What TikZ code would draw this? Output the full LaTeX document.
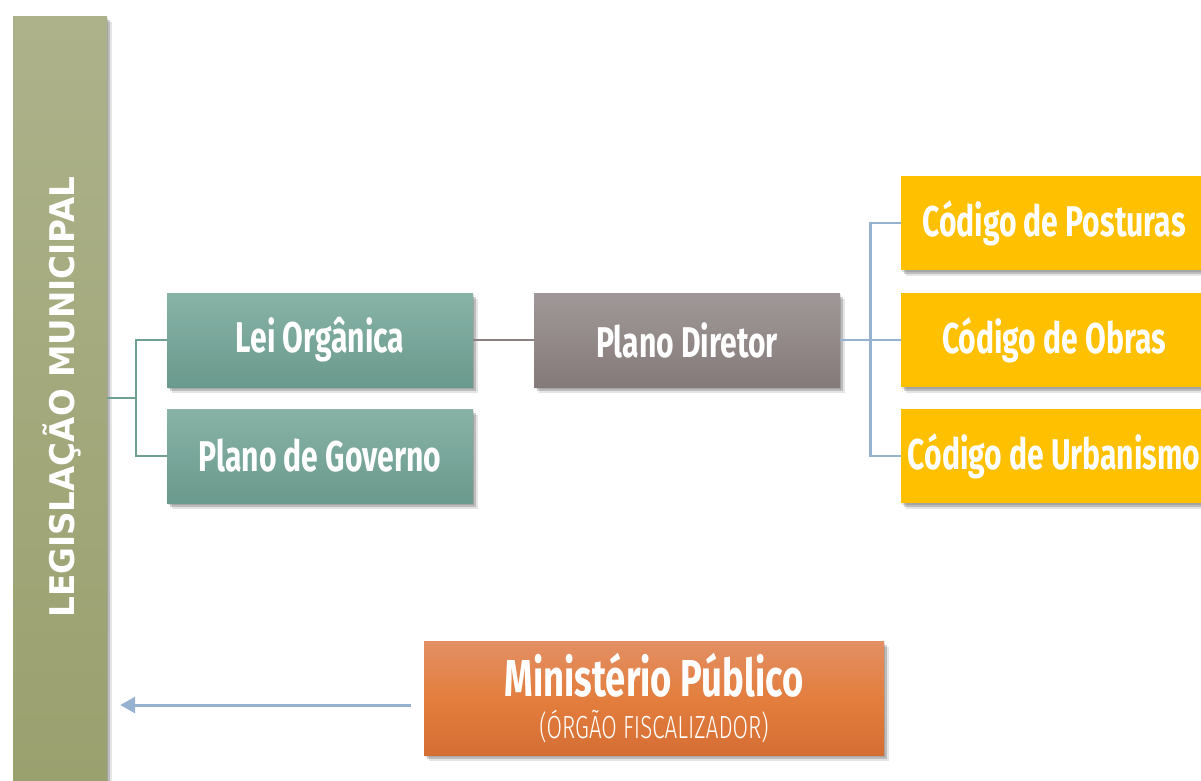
\documentclass[tikz,border=0pt]{standalone}
\usepackage{fontspec}
\setmainfont{Fira Sans}
\newfontfamily\agb{Fira Sans Bold}[FakeStretch=0.70]
\newfontfamily\agl{Fira Sans Light}[FakeStretch=0.70]
\newfontfamily\vfont{DejaVu Sans}[FakeStretch=0.96]
\usetikzlibrary{shadows,arrows.meta,calc}
\definecolor{tealtop}{HTML}{88B3A7}
\definecolor{tealbot}{HTML}{6A9A8D}
\definecolor{graytop}{HTML}{A09898}
\definecolor{graybot}{HTML}{857A7A}
\definecolor{yel}{HTML}{FFC000}
\definecolor{ortop}{HTML}{E38F64}
\definecolor{ormid}{HTML}{E37E3E}
\definecolor{orbot}{HTML}{D56E33}
\definecolor{bartop}{HTML}{ADB28B}
\definecolor{barbot}{HTML}{9AA06E}
\definecolor{tealline}{HTML}{6FA093}
\definecolor{grayline}{HTML}{8C8080}
\definecolor{blueline}{HTML}{95B3D0}
\tikzset{
  shad/.style={
    drop shadow={shadow xshift=1pt,shadow yshift=-2pt,opacity=0.12,fill=black},
    drop shadow={shadow xshift=3pt,shadow yshift=-4pt,opacity=0.18,fill=black},
    drop shadow={shadow xshift=5pt,shadow yshift=-6pt,opacity=0.10,fill=black}},
  box/.style={shad,minimum width=306pt,minimum height=94pt,inner sep=0pt,text=white,
    font=\agb\fontsize{43}{46}\selectfont},
  tealbox/.style={box,top color=tealtop,bottom color=tealbot},
  graybox/.style={box,top color=graytop,bottom color=graybot},
  yelbox/.style={box,fill=yel},
  conn/.style={line width=2.2pt},
}
\begin{document}
\begin{tikzpicture}[x=1pt,y=-1pt]
\useasboundingbox (0,0) rectangle (1201,780);
\node[shad,minimum width=94pt,minimum height=764pt,inner sep=0pt,top color=bartop,bottom color=barbot] (bar) at (60,398) {};
\node[rotate=90,text=white,font=\vfont\bfseries\fontsize{34}{36}\selectfont] (bartxt) at (62,397) {LEGISLAÇÃO MUNICIPAL};
\node[tealbox] (lei) at (320,340) {Lei Orgânica};
\node[tealbox] (gov) at (320,456) {Plano de Governo};
\node[graybox] (pd) at (687,340) {Plano Diretor};
\node[yelbox] (c1) at (1054,223) {Código de Posturas};
\node[yelbox] (c2) at (1054,340) {Código de Obras};
\node[yelbox] (c3) at (1054,456) {Código de Urbanismo};
\node[shad,minimum width=460pt,minimum height=114pt,inner sep=0pt,text=white,align=center,
  top color=ortop,bottom color=orbot,middle color=ormid,font=\fontsize{32}{42}\selectfont] (mp) at (654,698)
  {{\agb\fontsize{52}{42}\selectfont Ministério Público}\\
   {\agl\fontsize{32}{42}\selectfont (ÓRGÃO FISCALIZADOR)}};
% connectors
\draw[conn,tealline] (bar.east) -- ++(29,0) coordinate (tj);
\draw[conn,tealline] (lei.west) -| (tj) |- (gov.west);
\draw[conn,grayline] (lei.east) -- (pd.west);
\coordinate (bj) at ($(pd.east)!0.5!(c2.west)$);
\draw[conn,blueline] (pd.east) -- (c2.west);
\draw[conn,blueline] (c1.west) -| (bj) |- (c3.west);
\draw[line width=3pt,blueline,-{Triangle[length=15pt,width=16pt]},shorten <=13pt,shorten >=13pt]
  ([yshift=-7pt]mp.west) -- ([yshift=-7pt]mp.west -| bar.east);
\end{tikzpicture}
\end{document}
